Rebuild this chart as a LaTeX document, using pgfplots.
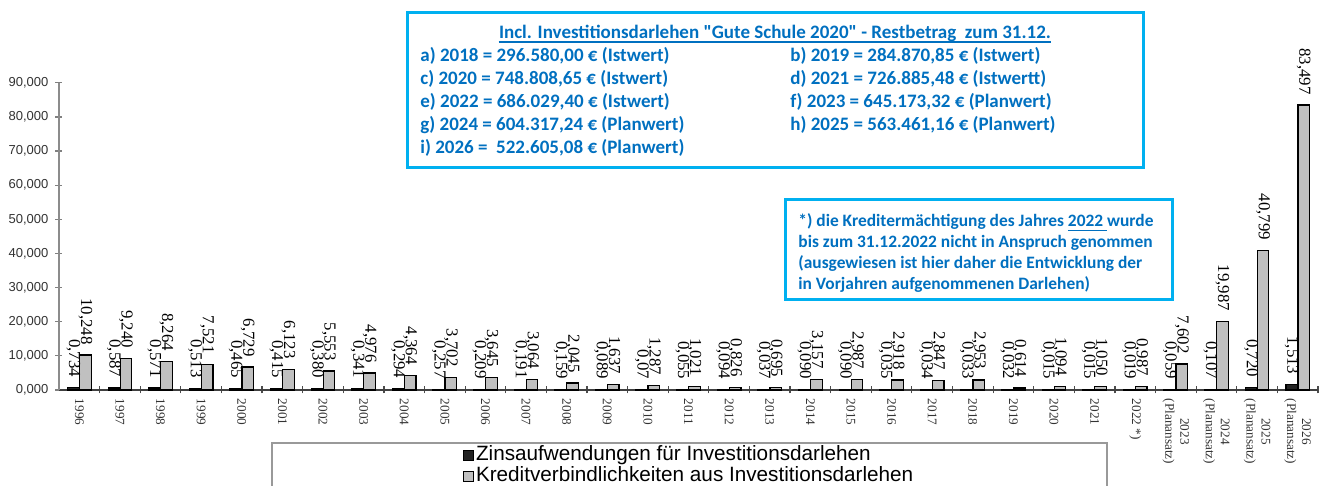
\documentclass[border=0pt]{standalone}
\usepackage{fontspec}
\usepackage{graphicx}
\usepackage{pgfplots}
\usepackage{pgfplotstable}
\pgfplotsset{compat=1.18}
\setmainfont{Liberation Serif}
\newfontfamily\arialf{Liberation Sans}
\newfontfamily\calib{Carlito}
\definecolor{boxcyan}{RGB}{0,176,240}
\definecolor{txtblue}{RGB}{0,112,192}
\definecolor{bargray}{RGB}{192,192,192}
\definecolor{bardark}{RGB}{35,35,35}

\pgfplotstableread{
idx zins zlab kredit klab
0 0.734 0,734 10.248 10,248
1 0.587 0,587 9.240 9,240
2 0.571 0,571 8.264 8,264
3 0.513 0,513 7.521 7,521
4 0.465 0,465 6.729 6,729
5 0.415 0,415 6.123 6,123
6 0.380 0,380 5.553 5,553
7 0.341 0,341 4.976 4,976
8 0.294 0,294 4.364 4,364
9 0.257 0,257 3.702 3,702
10 0.209 0,209 3.645 3,645
11 0.191 0,191 3.064 3,064
12 0.159 0,159 2.045 2,045
13 0.089 0,089 1.637 1,637
14 0.070 0,07 1.287 1,287
15 0.055 0,055 1.021 1,021
16 0.094 0,094 0.826 0,826
17 0.037 0,037 0.695 0,695
18 0.090 0,090 3.157 3,157
19 0.090 0,090 2.987 2,987
20 0.035 0,035 2.918 2,918
21 0.034 0,034 2.847 2,847
22 0.033 0,033 2.953 2,953
23 0.032 0,032 0.614 0,614
24 0.015 0,015 1.094 1,094
25 0.015 0,015 1.050 1,050
26 0.019 0,019 0.987 0,987
27 0.059 0,059 7.602 7,602
28 0.107 0,107 19.987 19,987
29 0.720 0,720 40.799 40,799
30 1.513 1,513 83.497 83,497
}\datatable

\pgfplotsset{
  sqlegend/.style={legend image code/.code={\draw[##1, line width=0.5pt] (0pt,-2.4pt) rectangle (4.8pt,2.4pt);}},
  vallab/.style={
    nodes near coords={\rotatebox{-90}{\pgfplotspointmeta}},
    point meta=explicit symbolic,
    every node near coord/.append style={font=\fontsize{8.4}{9}\selectfont, inner sep=0pt, yshift=5pt, text=black},
  },
}

\begin{document}
\begin{tikzpicture}
\begin{axis}[
  scale only axis, width=629.5pt, height=153.6pt,
  at={(0pt,0pt)}, anchor=south west,
  xmin=-0.5, xmax=30.5, ymin=0, ymax=90,
  clip=false,
  axis x line*=bottom, axis y line*=left,
  x axis line style={-, line width=0.7pt, black!75},
  y axis line style={-, line width=0.7pt, black!45},
  ybar, bar width=5.8pt,
  xtick={0,...,30},
  xticklabels={1996,1997,1998,1999,2000,2001,2002,2003,2004,2005,2006,2007,2008,2009,2010,2011,2012,2013,2014,2015,2016,2017,2018,2019,2020,2021,{2022 *)},{2023\\(Planansatz)},{2024\\(Planansatz)},{2025\\(Planansatz)},{2026\\(Planansatz)}},
  major x tick style={draw=none},
  minor xtick={0.5,1.5,...,30.5},
  minor x tick style={black!70, line width=0.6pt},
  ytick={0,10,...,90},
  y tick style={black!50, line width=0.6pt},
  tick align=center,
  major tick length=3.5pt, minor tick length=3.5pt,
  xticklabel style={rotate=-90, anchor=west, align=center, font=\fontsize{6.6}{7.5}\selectfont, text=black!80, inner sep=0pt, xshift=2.5pt},
  yticklabel style={font=\arialf\fontsize{6.5}{7.5}\selectfont, text=black!80},
  /pgf/number format/use comma,
  /pgf/number format/fixed,
  /pgf/number format/fixed zerofill,
  /pgf/number format/precision=3,
  /pgf/number format/assume math mode=true,
  legend style={at={(axis description cs:0.3209,-0.1775)}, anchor=north west, draw=none, fill=none, inner sep=0pt,
    font=\arialf\fontsize{10.35}{12}\selectfont,
    nodes={inner ysep=0.35pt, inner xsep=1pt, text height=7.6pt, text depth=2.2pt}, row sep=0pt},
  legend cell align=left,
]
\addplot[ybar, bar shift=-3pt, fill=bardark, draw=black, line width=0.6pt, sqlegend, vallab]
  table[x=idx, y=zins, meta=zlab] {\datatable};
\addlegendentry{Zinsaufwendungen für Investitionsdarlehen}
\addplot[ybar, bar shift=3pt, fill=bargray, draw=black, line width=0.6pt, sqlegend, vallab]
  table[x=idx, y=kredit, meta=klab] {\datatable};
\addlegendentry{Kreditverbindlichkeiten aus Investitionsdarlehen}
\end{axis}

% legend frame
\draw[black!40, line width=0.8pt] (106.5pt,-60pt) rectangle (524pt,-26.5pt);

% top info box
\draw[boxcyan, line width=1.5pt, fill=white] (174pt,111pt) rectangle (542pt,188.5pt);
\begin{scope}[every node/.style={text=txtblue, font=\calib\bfseries\fontsize{9.5}{11}\selectfont, inner sep=0pt}]
\node[anchor=base] (ttl) at (358pt,175.5pt) {Incl. Investitionsdarlehen "Gute Schule 2020" - Restbetrag\ \ zum 31.12.};
\draw[txtblue, line width=0.6pt] ([yshift=-1.5pt]ttl.base west) -- ([yshift=-1.5pt]ttl.base east);
\node[anchor=base west] at (180.5pt,164pt) {a) 2018 = 296.580,00 € (Istwert)};
\node[anchor=base west] at (365.5pt,164pt) {b) 2019 = 284.870,85 € (Istwert)};
\node[anchor=base west] at (180.5pt,152.5pt) {c) 2020 = 748.808,65 € (Istwert)};
\node[anchor=base west] at (365.5pt,152.5pt) {d) 2021 = 726.885,48 € (Istwertt)};
\node[anchor=base west] at (180.5pt,141pt) {e) 2022 = 686.029,40 € (Istwert)};
\node[anchor=base west] at (365.5pt,141pt) {f) 2023 = 645.173,32 € (Planwert)};
\node[anchor=base west] at (180.5pt,129.5pt) {g) 2024 = 604.317,24 € (Planwert)};
\node[anchor=base west] at (365.5pt,129.5pt) {h) 2025 = 563.461,16 € (Planwert)};
\node[anchor=base west] at (180.5pt,118pt) {i) 2026 =\ \ 522.605,08 € (Planwert)};
\end{scope}

% footnote box
\draw[boxcyan, line width=1.5pt, fill=white] (363pt,45pt) rectangle (556.5pt,95pt);
\begin{scope}[every node/.style={text=txtblue, font=\calib\bfseries\fontsize{8.7}{10}\selectfont, inner sep=0pt, anchor=base west}]
\node at (369.5pt,81.5pt) {*) die Kreditermächtigung des Jahres \underline{2022\ }wurde};
\node at (369.5pt,71pt) {bis zum 31.12.2022 nicht in Anspruch genommen};
\node at (369.5pt,60.5pt) {(ausgewiesen ist hier daher die Entwicklung der};
\node at (369.5pt,50pt) {in Vorjahren aufgenommenen Darlehen)};
\end{scope}

\pgfresetboundingbox
\path[use as bounding box] (-29.5pt,-48pt) rectangle (633.5pt,195pt);
\end{tikzpicture}
\end{document}
